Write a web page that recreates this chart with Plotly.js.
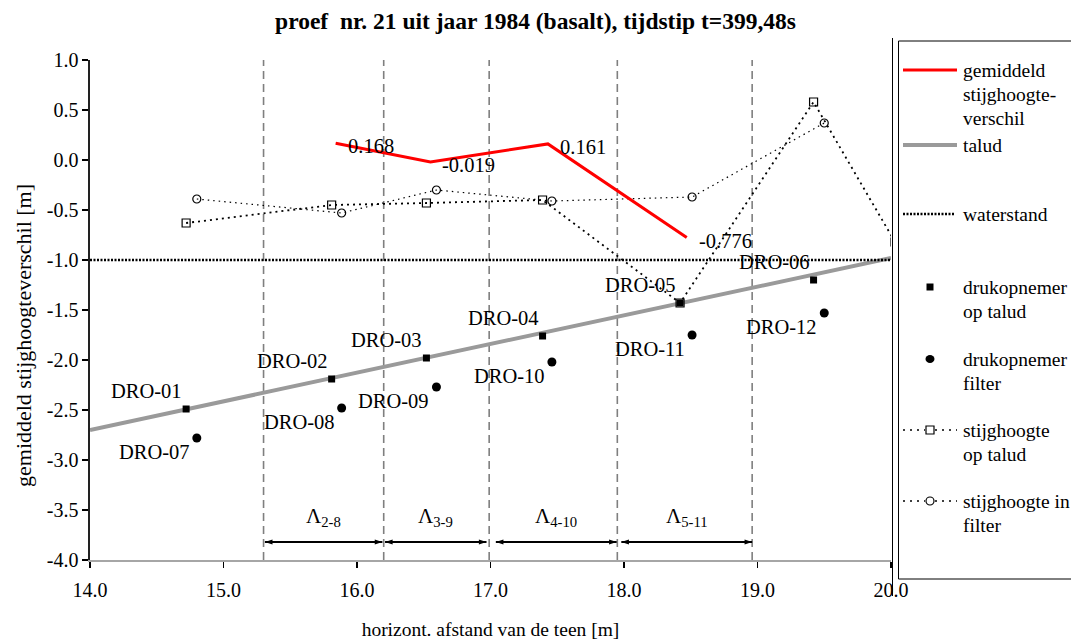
<!DOCTYPE html>
<html><head><meta charset="utf-8">
<script src="https://cdn.plot.ly/plotly-3.0.1.min.js"></script>
<style>html,body{margin:0;padding:0;background:#fff}#chart{width:1071px;height:640px}</style>
</head><body><div id="chart"></div>
<script>
// ---- data ----
const sensorTaludNames = ['DRO-01','DRO-02','DRO-03','DRO-04','DRO-05','DRO-06'];
const sensorTaludX = [14.72, 15.81, 16.52, 17.39, 18.42, 19.42];
const sensorTaludY = [-2.49, -2.19, -1.98, -1.76, -1.43, -1.20];
const sensorFilterNames = ['DRO-07','DRO-08','DRO-09','DRO-10','DRO-11','DRO-12'];
const sensorFilterX = [14.80, 15.885, 16.595, 17.46, 18.51, 19.50];
const sensorFilterY = [-2.78, -2.48, -2.27, -2.02, -1.75, -1.53];
const headTaludX = [14.72, 15.81, 16.52, 17.39, 18.42, 19.42, 20.03];
const headTaludY = [-0.63, -0.45, -0.43, -0.40, -1.43, 0.58, -0.82];
const headFilterX = [14.80, 15.885, 16.595, 17.46, 18.51, 19.50];
const headFilterY = [-0.39, -0.53, -0.30, -0.41, -0.37, 0.37];
const meanDiffX = [15.84, 16.55, 17.43, 18.47];
const meanDiffY = [0.168, -0.019, 0.161, -0.776];
const meanDiffLabels = ['0.168', '-0.019', '0.161', '-0.776'];
const taludX = [14.0, 20.0];
const taludY = [-2.70, -0.98];
const waterX = [14.0, 20.0];
const waterY = [-1.0, -1.0];
const boundaryX = [15.30, 16.20, 16.99, 17.95, 18.96];
const spanStart = [15.31, 16.21, 17.04, 17.98];
const spanEnd = [16.19, 16.97, 17.945, 18.96];
const spanLabels = ['Λ<sub>2-8</sub>', 'Λ<sub>3-9</sub>', 'Λ<sub>4-10</sub>', 'Λ<sub>5-11</sub>'];
const spanArrowY = -3.82;
const spanLabelY = -3.57;
const xTickVals = [14, 15, 16, 17, 18, 19, 20];
const xTickText = ['14.0','15.0','16.0','17.0','18.0','19.0','20.0'];
const yTickVals = [1, 0.5, 0, -0.5, -1, -1.5, -2, -2.5, -3, -3.5, -4];
const yTickText = ['1.0','0.5','0.0','-0.5','-1.0','-1.5','-2.0','-2.5','-3.0','-3.5','-4.0'];

// ---- layout helpers ----
const W = 1071, H = 640, L = 90, R = 180, T = 60, B = 80;
const PW = W - L - R, PH = H - T - B;
const px = v => (v - L) / PW;
const py = v => 1 - (v - T) / PH;
const FONT = 'Liberation Serif, Times New Roman, serif';
const FS = 20;      // tick labels
const FL = 20.5;    // point labels
const FG = 19.5;    // legend

const traces = [
  {x: taludX, y: taludY, mode: 'lines', line: {color: '#9a9a9a', width: 4}},
  {x: waterX, y: waterY, mode: 'lines', line: {color: '#000', width: 2.5, dash: '2px,1.5px'}},
  {x: headTaludX, y: headTaludY, mode: 'lines+markers',
   line: {color: '#000', width: 1.8, dash: '2px,4px'},
   marker: {symbol: 'square-open', size: 8, color: '#000', line: {width: 1.2, color: '#000'}}},
  {x: headFilterX, y: headFilterY, mode: 'lines+markers',
   line: {color: '#000', width: 1.2, dash: '1.5px,4px'},
   marker: {symbol: 'circle-open', size: 8, color: '#000', line: {width: 1.2, color: '#000'}}},
  {x: sensorTaludX, y: sensorTaludY, mode: 'markers',
   marker: {symbol: 'square', size: 7, color: '#000'}},
  {x: sensorFilterX, y: sensorFilterY, mode: 'markers',
   marker: {symbol: 'circle', size: 9, color: '#000'}},
  {x: meanDiffX, y: meanDiffY, mode: 'lines', line: {color: '#ff0000', width: 3}}
];
// span arrows (double headed)
spanStart.forEach((s, i) => traces.push({x: [s, spanEnd[i]], y: [spanArrowY, spanArrowY], mode: 'lines+markers',
  line: {color: '#000', width: 2},
  marker: {symbol: 'arrow', size: 8, color: '#000', angle: [-90, 90], line: {width: 0}}}));
traces.forEach(t => { t.type = 'scatter'; t.showlegend = false; t.hoverinfo = 'skip'; });

const shapes = [];
const annotations = [];

boundaryX.forEach(b => shapes.push({type: 'line', xref: 'x', yref: 'y', x0: b, x1: b, y0: -4, y1: 1,
  line: {color: '#7f7f7f', width: 1.6, dash: '8px,5px'}, layer: 'below'}));

spanLabels.forEach((lab, i) => annotations.push({xref: 'x', yref: 'y', x: (spanStart[i] + spanEnd[i]) / 2, y: spanLabelY,
  text: lab, showarrow: false, font: {family: FONT, size: 21, color: '#000'}, xanchor: 'center', yanchor: 'middle'}));

// sensor labels
sensorTaludNames.forEach((n, i) => annotations.push({xref: 'x', yref: 'y', x: sensorTaludX[i], y: sensorTaludY[i],
  text: n, showarrow: false, xanchor: 'right', yanchor: 'middle', xshift: -2, yshift: 18,
  font: {family: FONT, size: FL, color: '#000'}}));
sensorFilterNames.forEach((n, i) => annotations.push({xref: 'x', yref: 'y', x: sensorFilterX[i], y: sensorFilterY[i],
  text: n, showarrow: false, xanchor: 'right', yanchor: 'middle', xshift: -5, yshift: -14,
  font: {family: FONT, size: FL, color: '#000'}}));
meanDiffLabels.forEach((n, i) => annotations.push({xref: 'x', yref: 'y', x: meanDiffX[i], y: meanDiffY[i],
  text: n, showarrow: false, xanchor: 'left', yanchor: 'middle', xshift: 10, yshift: -3,
  font: {family: FONT, size: FL, color: '#000'}}));

// y axis title (placed as in the reference, slightly below the axis centre)
annotations.push({xref: 'paper', yref: 'paper', x: px(23), y: py(336), text: 'gemiddeld stijghoogteverschil [m]',
  textangle: -90, showarrow: false, xanchor: 'center', yanchor: 'middle', font: {family: FONT, size: 22, color: '#000'}});

// right border of plot region & legend box
shapes.push({type: 'line', xref: 'paper', yref: 'paper', x0: px(892.5), x1: px(892.5), y0: py(38), y1: py(596),
  line: {color: '#000', width: 1}});
shapes.push({type: 'rect', xref: 'paper', yref: 'paper', x0: px(898.5), x1: px(1085), y0: py(41), y1: py(579),
  line: {color: '#000', width: 1}, fillcolor: 'rgba(0,0,0,0)'});

// legend
const legendItems = [
  {kind: 'line', color: '#ff0000', width: 3, y: 70, text: ['gemiddeld', 'stijghoogte-', 'verschil']},
  {kind: 'line', color: '#9a9a9a', width: 4, y: 145, text: ['talud']},
  {kind: 'water', y: 214, text: ['waterstand']},
  {kind: 'sq', y: 287, text: ['drukopnemer', 'op talud']},
  {kind: 'dot', y: 359, text: ['drukopnemer', 'filter']},
  {kind: 'sqopen', y: 430, text: ['stijghoogte', 'op talud']},
  {kind: 'circopen', y: 501, text: ['stijghoogte in', 'filter']}
];
const LX0 = 903, LX1 = 957, LXM = 930, LTX = 961, LLH = 24;
legendItems.forEach(it => {
  const y = it.y;
  if (it.kind === 'line') {
    shapes.push({type: 'line', xref: 'paper', yref: 'paper', x0: px(LX0), x1: px(LX1), y0: py(y), y1: py(y),
      line: {color: it.color, width: it.width}});
  } else if (it.kind === 'water') {
    shapes.push({type: 'line', xref: 'paper', yref: 'paper', x0: px(LX0), x1: px(LX1 - 2), y0: py(y), y1: py(y),
      line: {color: '#000', width: 2.5, dash: '2px,1.5px'}});
  } else if (it.kind === 'sq') {
    shapes.push({type: 'rect', xref: 'paper', yref: 'paper', x0: px(LXM - 3.5), x1: px(LXM + 3.5), y0: py(y - 3.5), y1: py(y + 3.5),
      line: {width: 0}, fillcolor: '#000'});
  } else if (it.kind === 'dot') {
    shapes.push({type: 'circle', xref: 'paper', yref: 'paper', x0: px(LXM - 4.5), x1: px(LXM + 4.5), y0: py(y - 4), y1: py(y + 4),
      line: {width: 0}, fillcolor: '#000'});
  } else {
    shapes.push({type: 'line', xref: 'paper', yref: 'paper', x0: px(LX0), x1: px(LXM - 5), y0: py(y), y1: py(y),
      line: {color: '#000', width: 1.5, dash: '2px,5px'}});
    shapes.push({type: 'line', xref: 'paper', yref: 'paper', x0: px(LXM + 5), x1: px(LX1), y0: py(y), y1: py(y),
      line: {color: '#000', width: 1.5, dash: '2px,5px'}});
    shapes.push({type: it.kind === 'sqopen' ? 'rect' : 'circle', xref: 'paper', yref: 'paper',
      x0: px(LXM - 4), x1: px(LXM + 4), y0: py(y - 4), y1: py(y + 4),
      line: {width: 1.2, color: '#000'}, fillcolor: '#fff'});
  }
  it.text.forEach((t, k) => annotations.push({xref: 'paper', yref: 'paper', x: px(LTX), y: py(y + k * LLH),
    text: t, showarrow: false, xanchor: 'left', yanchor: 'middle', font: {family: FONT, size: FG, color: '#000'}}));
});

const layout = {
  width: W, height: H,
  margin: {l: L, r: R, t: T, b: B},
  paper_bgcolor: '#fff', plot_bgcolor: '#fff',
  font: {family: FONT, size: FS, color: '#000'},
  title: {text: '<b>proef  nr. 21 uit jaar 1984 (basalt), tijdstip t=399,48s</b>',
    font: {family: FONT, size: 23.5, color: '#000'}, x: 0.5, xref: 'container', xanchor: 'center',
    y: 1 - 21 / H, yref: 'container', yanchor: 'middle'},
  xaxis: {range: [14, 20], tickmode: 'array', tickvals: xTickVals, ticktext: xTickText,
    showgrid: false, zeroline: false, showline: true, linecolor: '#a6a6a6', linewidth: 1.5,
    ticks: 'outside', ticklen: 6, tickcolor: '#000', tickwidth: 1.2, ticklabelstandoff: 5,
    tickfont: {family: FONT, size: FS, color: '#000'},
    title: {text: 'horizont. afstand van de teen [m]', font: {family: FONT, size: 19.5, color: '#000'}, standoff: 24}},
  yaxis: {range: [-4, 1], tickmode: 'array', tickvals: yTickVals, ticktext: yTickText,
    showgrid: false, zeroline: false, showline: true, linecolor: '#222', linewidth: 1.6,
    ticks: 'outside', ticklen: 6, tickcolor: '#000', tickwidth: 1.2,
    tickfont: {family: FONT, size: FS, color: '#000'}},
  shapes: shapes,
  annotations: annotations,
  showlegend: false
};

Plotly.newPlot('chart', traces, layout, {displayModeBar: false, staticPlot: true});
</script>
</body></html>
